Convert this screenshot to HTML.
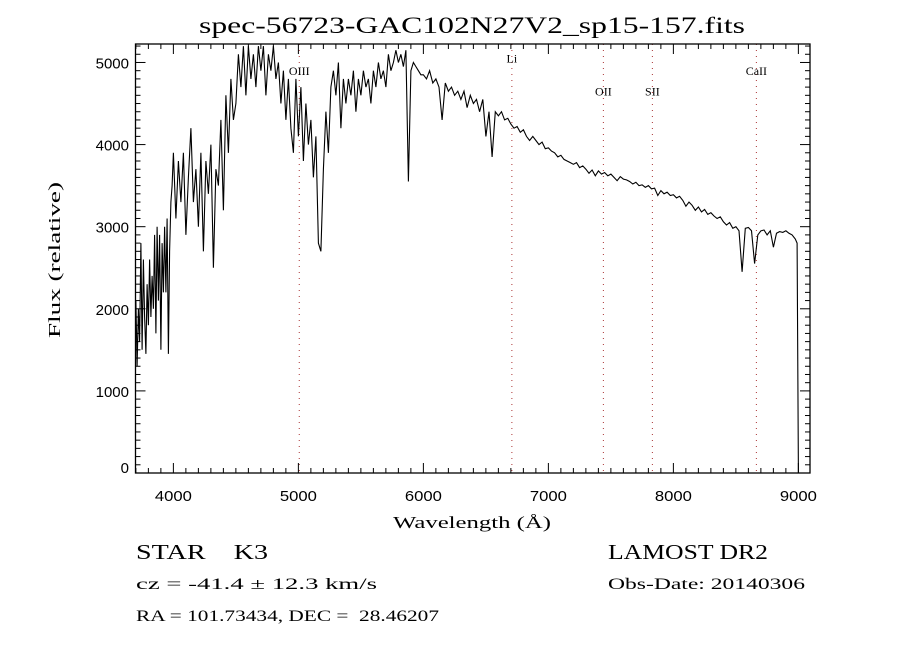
<!DOCTYPE html>
<html><head><meta charset="utf-8">
<style>
html,body{margin:0;padding:0;background:#fff;}
svg{display:block;}
text{fill:#000;}
</style></head>
<body>
<svg id="chart" width="900" height="650" viewBox="0 0 900 650" xmlns="http://www.w3.org/2000/svg">
<rect width="900" height="650" fill="#fff"/>
<text x="199" y="33" font-family="Liberation Serif, serif" font-size="23" textLength="546" lengthAdjust="spacingAndGlyphs">spec-56723-GAC102N27V2_sp15-157.fits</text>
<g id="lines"></g>
<g id="series"></g>
<g id="axes"></g>
<text x="393" y="528" font-family="Liberation Serif, serif" font-size="17" textLength="158" lengthAdjust="spacingAndGlyphs">Wavelength (Å)</text>
<text transform="translate(60,338) rotate(-90)" font-family="Liberation Serif, serif" font-size="17" textLength="156" lengthAdjust="spacingAndGlyphs">Flux (relative)</text>
<text x="136" y="559" font-family="Liberation Serif, serif" font-size="21" xml:space="preserve" textLength="132" lengthAdjust="spacingAndGlyphs">STAR    K3</text>
<text x="608" y="559" font-family="Liberation Serif, serif" font-size="21" textLength="160" lengthAdjust="spacingAndGlyphs">LAMOST DR2</text>
<text x="136" y="589" font-family="Liberation Serif, serif" font-size="16" textLength="241" lengthAdjust="spacingAndGlyphs">cz = -41.4 ± 12.3 km/s</text>
<text x="608" y="589" font-family="Liberation Serif, serif" font-size="16" textLength="197" lengthAdjust="spacingAndGlyphs">Obs-Date: 20140306</text>
<text x="136" y="621" font-family="Liberation Serif, serif" font-size="16" xml:space="preserve" textLength="303" lengthAdjust="spacingAndGlyphs">RA = 101.73434, DEC =  28.46207</text>
</svg>
<script>
const xTicks = [4000,5000,6000,7000,8000,9000];
const yTicks = [0,1000,2000,3000,4000,5000];
const lineNames = ["OIII","Li","OII","SII","CaII"];
const lineWaves = [5007,6708,7440,7832,8664];
const lineLabelFlux = [4850,5000,4600,4600,4850];
const blueWave = [3700,3710,3720,3730,3740,3750,3760,3770,3780,3790,3800,3810,3820,3830,3840,3850,3860,3870,3880,3890,3900,3910,3920,3930,3940,3950,3960,3970,3980,3990];
const blueFlux = [2100,1300,2000,1600,2800,1500,2600,1900,1450,2300,1800,2600,1900,2400,2000,2900,1700,3000,2100,2900,1500,2800,2200,3000,2200,3100,1450,2700,3300,3500];
const midFlux = [
3900,3100,3800,3300,3900,2900,3600,4200,3300,3700,
3000,3900,2700,3800,3400,4000,2500,3700,3500,4300,
3200,4600,3900,4800,4300,4500,5100,4700,5200,4600,
5200,4800,5100,4700,5200,4900,5200,4600,5100,4900,
5200,4800,5000,4500,4900,4300,4800,4200,3900,4800,
4100,4700,3800,4500,4000,4300,3600,4100,2800,2700,
3700,4400,3900,4700,4900,4600,5000,4200,4800,4500,
4800,4600,4900,4400,4800,4600,4900,4700,4800,4500,
4900,4700,5000,4800,4900,4700,5100,4900,5000,5150,
5000,5100,4950,5150,3550,4900,5000,4950,4900,4850];
const redFlux = [
4850,4800,4900,4750,4800,4700,4300,4750,4650,4700,4600,4650,
4550,4650,4450,4600,4500,4550,4400,4550,4100,4400,3850,4400,
4350,4400,4300,4320,4250,4200,4220,4150,4180,4100,4050,4100,
4050,4000,4030,3950,3960,3920,3900,3850,3870,3820,3800,3780,
3760,3780,3720,3740,3700,3650,3690,3620,3680,3640,3660,3620,
3640,3600,3560,3610,3580,3570,3550,3520,3540,3500,3510,3480,
3500,3460,3470,3380,3440,3400,3420,3380,3390,3350,3370,3320,
3250,3300,3260,3200,3240,3180,3210,3150,3170,3130,3100,3120,
3060,3020,3050,2980,3000,2950,2450,2980,2990,2950,2550,2900,
2950,2960,2900,2950,2750,2920,2940,2930,2950,2920,2900,2850];
const tailWave = [8990,9000,9010];
const tailFlux = [2800,0,0];

const L=135.5,R=810,T=44,B=473;
const xMin=3697, xMax=9093, yMin=0, yMax=5225;
function sx(w){return L+(w-xMin)/(xMax-xMin)*(R-L);}
function sy(f){return B-(f-yMin)/(yMax-yMin)*(B-T);}
const NS="http://www.w3.org/2000/svg";
function mk(tag,attrs,parent){const e=document.createElementNS(NS,tag);for(const k in attrs)e.setAttribute(k,attrs[k]);parent.appendChild(e);return e;}

const waves=[],fluxes=[];
blueWave.forEach((w,i)=>{waves.push(w);fluxes.push(blueFlux[i]);});
midFlux.forEach((f,i)=>{waves.push(4000+20*i);fluxes.push(f);});
redFlux.forEach((f,i)=>{waves.push(6000+25*i);fluxes.push(f);});
tailWave.forEach((w,i)=>{waves.push(w);fluxes.push(tailFlux[i]);});

const lg=document.getElementById('lines');
lineWaves.forEach((w,i)=>{
  const ln=mk('line',{x1:sx(w),x2:sx(w),y1:T,y2:B,stroke:'#a33',"stroke-width":1,"stroke-dasharray":"1,5"},lg);
  
  
  const t=mk('text',{x:sx(w),y:sy(lineLabelFlux[i]),"font-family":"Liberation Serif, serif","font-size":12,"text-anchor":"middle"},lg);
  t.textContent=lineNames[i];
  
  
});

const sg=document.getElementById('series');
const pts=waves.map((w,i)=>sx(w).toFixed(1)+','+sy(fluxes[i]).toFixed(1)).join(' ');
const pl=mk('polyline',{points:pts,fill:'none',stroke:'#000',"stroke-width":1.1},sg);



const ag=document.getElementById('axes');
const fr=mk('rect',{x:L,y:T,width:R-L,height:B-T,fill:'none',stroke:'#000',"stroke-width":1.3},ag);


for(let w=3700;w<=9000;w+=100){
  const maj=w%1000===0,len=maj?10:5,x=sx(w);
  mk('line',{x1:x,x2:x,y1:B,y2:B-len,stroke:'#000'},ag);
  mk('line',{x1:x,x2:x,y1:T,y2:T+len,stroke:'#000'},ag);
}
for(let f=0;f<=5200;f+=100){
  const maj=f%1000===0,len=maj?10:5,y=sy(f);
  mk('line',{x1:L,x2:L+len,y1:y,y2:y,stroke:'#000'},ag);
  mk('line',{x1:R,x2:R-len,y1:y,y2:y,stroke:'#000'},ag);
}
xTicks.forEach(v=>{
  const t=mk('text',{x:sx(v),y:501,"font-family":"Liberation Sans, sans-serif","font-size":15,"text-anchor":"middle",textLength:37,lengthAdjust:"spacingAndGlyphs"},ag);
  t.textContent=v;
  
  
});
yTicks.forEach(v=>{
  const t=mk('text',{x:129,y:sy(v)+(v===0?0:6),"font-family":"Liberation Sans, sans-serif","font-size":15,"text-anchor":"end"},ag);
  t.textContent=v;
  
  
});
</script>
</body></html>
